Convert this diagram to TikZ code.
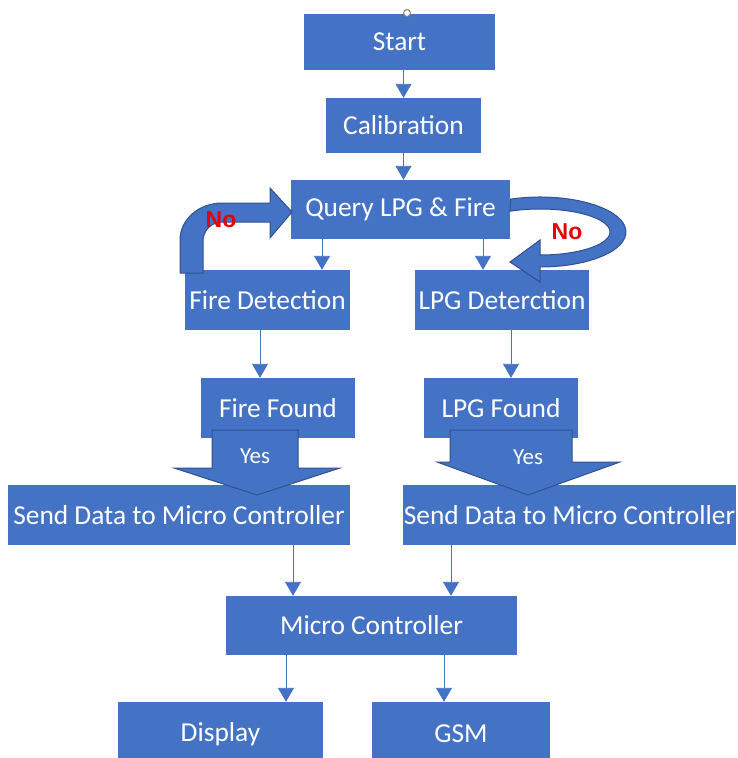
\documentclass[tikz,border=0pt]{standalone}
\usepackage{fontspec}
\setmainfont{Carlito}
\newfontfamily\nofont{Liberation Sans}
\usetikzlibrary{arrows.meta}

\definecolor{boxblue}{RGB}{68,114,196}
\definecolor{edgeblue}{RGB}{47,82,143}
\definecolor{nored}{RGB}{230,0,0}

\begin{document}
\begin{tikzpicture}[
    x=1pt, y=-1pt,
    box/.style={
        rectangle, fill=boxblue, text=white, inner sep=0pt,
        font=\fontsize{27.4}{31}\selectfont
    },
    arr/.style={
        -{Triangle[length=14pt,width=16pt]},
        line width=0.9pt,
        color=boxblue
    },
    blk/.style={
        fill=boxblue, draw=edgeblue, line width=1pt
    },
    yeslbl/.style={
        text=white, font=\fontsize{23}{27}\selectfont
    },
    nolbl/.style={
        text=nored, font=\nofont\bfseries\fontsize{23}{26}\selectfont
    }
]

\useasboundingbox (0,0) rectangle (737,758);
\clip (0,0) rectangle (737,758);

%% ── Main column ─────────────────────────────────────────────────────
\node[box, minimum width=191pt, minimum height=56pt] (start) at (399.5, 42)  {Start};
\node[box, minimum width=155pt, minimum height=55pt] (calib) at (403.5, 125.5) {Calibration};
\node[box, minimum width=219pt, minimum height=59pt] (query) at (400.5, 209.5) {Query LPG \& Fire};

\node[circle, draw=gray, fill=white, line width=1pt, minimum size=7pt, inner sep=0pt]
    (hdl) at (407, 13) {};

\draw[arr] (start.south -| calib.north) -- (calib.north);
\draw[arr] (calib.south) -- (calib.south |- query.north);

%% ── Fire branch ─────────────────────────────────────────────────────
\node[box, minimum width=165pt, minimum height=60pt] (firedet) at (267.5, 300) {Fire Detection};
\node[box, minimum width=154pt, minimum height=60pt] (firefnd) at (278, 408)   {Fire Found};
\node[box, minimum width=342pt, minimum height=60pt] (sendl)   at (179, 515)   {Send Data to Micro Controller};

\draw[arr] ([xshift=-78.5pt]query.south) coordinate (qf) -- (qf |- firedet.north);
\draw[arr] ([xshift=-7.5pt]firedet.south) coordinate (fd) -- (fd |- firefnd.north);

%% ── LPG branch ──────────────────────────────────────────────────────
\node[box, minimum width=174pt, minimum height=60pt] (lpgdet) at (502, 300)   {LPG Deterction};
\node[box, minimum width=154pt, minimum height=60pt] (lpgfnd) at (501, 408)   {LPG Found};
\node[box, minimum width=333pt, minimum height=60pt] (sendr)  at (569.5, 515) {Send Data to Micro Controller};

\draw[arr] ([xshift=82.5pt]query.south) coordinate (ql) -- (ql |- lpgdet.north);
\draw[arr] ([xshift=9pt]lpgdet.south) coordinate (ld) -- (ld |- lpgfnd.north);

%% ── Controller and outputs ──────────────────────────────────────────
\node[box, minimum width=291pt, minimum height=59pt] (mc)   at (371.5, 625.5) {Micro Controller};
\node[box, minimum width=205pt, minimum height=64pt] (disp) at (220.5, 734)   {Display};
\node[box, minimum width=178pt, minimum height=64pt] (gsm)  at (461, 734)     {GSM};

\draw[arr] ([xshift=114pt]sendl.south) coordinate (sl) -- (sl |- mc.north);
\draw[arr] ([xshift=-118.5pt]sendr.south) coordinate (sr) -- (sr |- mc.north);
\draw[arr] ([xshift=-85.5pt]mc.south) coordinate (md) -- (md |- disp.north);
\draw[arr] ([xshift=72.5pt]mc.south) coordinate (mg) -- (mg |- gsm.north);

%% ── Yes block arrows ────────────────────────────────────────────────
\draw[blk] (212,430) -- (212,468) -- (174,468) -- (257,495)
    -- (340,468) -- (298,468) -- (298,430) -- cycle;
\node[yeslbl] (yesl) at (255, 456) {Yes};

\draw[blk] (450,430) -- (450,462) -- (437,462) -- (528,495)
    -- (620,462) -- (572,462) -- (572,430) -- cycle;
\node[yeslbl] (yesr) at (528, 457) {Yes};

%% ── No block arrows ─────────────────────────────────────────────────
\draw[blk] (180,273) -- (180,240)
    arc[start angle=180, end angle=270, x radius=42, y radius=37]
    -- (270,203) -- (270,188) -- (292,212) -- (270,238) -- (270,222) -- (222,222)
    arc[start angle=270, end angle=180, radius=19]
    -- (203,273) -- cycle;
\node[nolbl] (nol) at (221, 220) {No};

\draw[blk] (510.6,199.1)
    arc[start angle=-110, end angle=90, x radius=86, y radius=35]
    -- (540,282) -- (510,262) -- (540,240) -- (540,255)
    arc[start angle=90, end angle=-115.4, x radius=70, y radius=23]
    -- cycle;
\node[nolbl] (nor) at (567, 232) {No};

\end{tikzpicture}
\end{document}
